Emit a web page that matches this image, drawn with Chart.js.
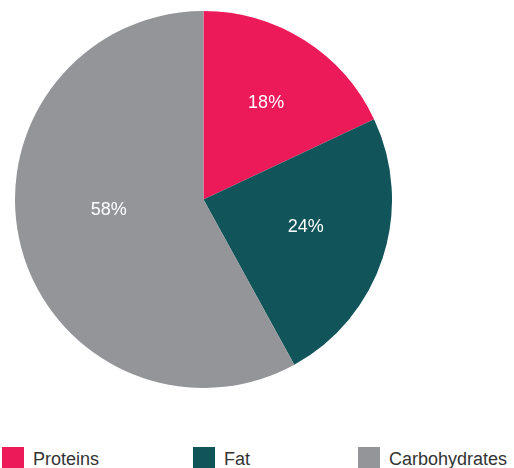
<!DOCTYPE html>
<html>
<head>
<meta charset="utf-8">
<script src="https://cdn.jsdelivr.net/npm/chart.js@4"></script>
<style>
  body { margin: 0; background: #fff; font-family: "Liberation Sans", Arial, sans-serif; }
  #wrap { position: relative; width: 514px; height: 468px; overflow: hidden; }
  #pieBox { position: absolute; left: 15px; top: 11px; width: 377px; height: 377px; }
  .item { position: absolute; top: 447px; height: 21px; display: flex; align-items: center; }
  .box { width: 22px; height: 21px; margin-right: 9px; }
  .txt { font-size: 18px; color: #333; line-height: 21px; position: relative; top: 2px; }
</style>
</head>
<body>
<div id="wrap">
  <div id="pieBox"><canvas id="grafico"></canvas></div>
  <div id="leyenda"></div>
</div>
<script>
// Datos del gráfico
const categorias = ["Proteins", "Fat", "Carbohydrates"];
const valores = [18, 24, 58];
const colores = ["#ED1A59", "#11555A", "#939598"];

// Posición de cada etiqueta: fracción del arco y fracción del radio
const posEtiqueta = [[0.5, 0.62], [0.456, 0.56], [0.545, 0.505]];
// Columnas de la leyenda
const leyendaX = [2, 193, 358];

// Plugin para escribir los porcentajes dentro de cada sector
const etiquetas = {
    id: "etiquetas",
    afterDatasetsDraw(chart) {
        const ctx = chart.ctx;
        const arcos = chart.getDatasetMeta(0).data;
        ctx.save();
        ctx.fillStyle = "#fff";
        ctx.font = "18px 'Liberation Sans', Arial, sans-serif";
        ctx.textAlign = "center";
        ctx.textBaseline = "middle";
        arcos.forEach(function(arco, i) {
            const p = arco.getProps(["x", "y", "startAngle", "endAngle", "outerRadius"], true);
            const ang = p.startAngle + (p.endAngle - p.startAngle) * posEtiqueta[i][0];
            const r = p.outerRadius * posEtiqueta[i][1];
            // +2 para centrar bien los dígitos en vertical
            ctx.fillText(valores[i] + "%", p.x + Math.cos(ang) * r, p.y + Math.sin(ang) * r + 2);
        });
        ctx.restore();
    }
};

new Chart(document.getElementById("grafico"), {
    type: "pie",
    data: {
        labels: categorias,
        datasets: [{
            data: valores,
            backgroundColor: colores,
            borderWidth: 0
        }]
    },
    options: {
        responsive: true,
        maintainAspectRatio: false,
        animation: false,
        layout: { padding: 0 },
        plugins: {
            legend: { display: false },
            tooltip: { enabled: false }
        }
    },
    plugins: [etiquetas]
});

// Leyenda en HTML
const leyenda = document.getElementById("leyenda");
categorias.forEach(function(nombre, i) {
    const item = document.createElement("div");
    item.className = "item";
    item.style.left = leyendaX[i] + "px";
    item.innerHTML = '<div class="box" style="background:' + colores[i] + '"></div><span class="txt">' + nombre + '</span>';
    leyenda.appendChild(item);
});
</script>
</body>
</html>
